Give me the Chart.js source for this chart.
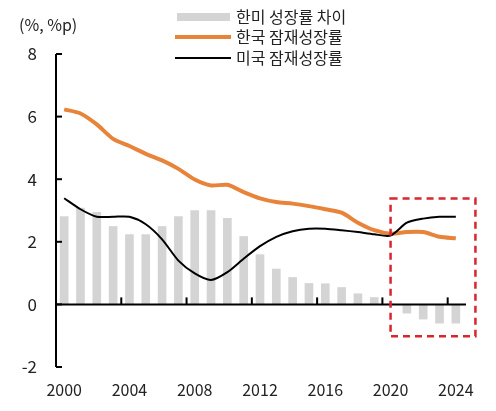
<!DOCTYPE html>
<html>
<head>
  <meta charset="utf-8">
  <title>한미 잠재성장률</title>
  <script src="https://cdn.jsdelivr.net/npm/chart.js"></script>
  <style>
    body { margin: 0; background: #fff; }
    #wrap { width: 496px; height: 411px; position: relative; }
  </style>
</head>
<body>
  <div id="wrap"><canvas id="growthChart"></canvas></div>

  <script>
    // 데이터
    const years = ['2000','2001','2002','2003','2004','2005','2006','2007','2008','2009','2010','2011','2012',
                   '2013','2014','2015','2016','2017','2018','2019','2020','2021','2022','2023','2024'];
    const gapValues = [2.82, 3.09, 2.95, 2.50, 2.24, 2.24, 2.50, 2.82, 3.01, 3.01, 2.76, 2.18, 1.60,
                       1.14, 0.87, 0.68, 0.67, 0.55, 0.35, 0.23, 0.03, -0.29, -0.48, -0.61, -0.61];
    const koreaValues = [6.23, 6.10, 5.75, 5.29, 5.06, 4.81, 4.60, 4.33, 3.99, 3.80, 3.82, 3.59, 3.39,
                         3.27, 3.22, 3.14, 3.04, 2.93, 2.61, 2.37, 2.26, 2.31, 2.31, 2.16, 2.11];
    const usValues = [3.39, 3.04, 2.80, 2.80, 2.80, 2.56, 2.08, 1.40, 0.99, 0.78, 1.03, 1.46, 1.86,
                      2.16, 2.34, 2.42, 2.42, 2.37, 2.31, 2.24, 2.20, 2.61, 2.74, 2.80, 2.80];
    const yTicks = [-2, 0, 2, 4, 6, 8];

    const FONT = '"Noto Sans CJK KR", "Noto Sans", sans-serif';

    // 축선, 안쪽 눈금, 범례, 점선 박스
    const decoPlugin = {
      id: 'deco',
      afterDatasetsDraw(chart) {
        const ctx = chart.ctx;
        const x = chart.scales.x, y = chart.scales.y;
        const area = chart.chartArea;
        const zero = y.getPixelForValue(0);

        ctx.save();
        ctx.strokeStyle = '#000';
        ctx.lineWidth = 2;
        // y축
        ctx.beginPath();
        ctx.moveTo(area.left, area.top);
        ctx.lineTo(area.left, area.bottom);
        ctx.stroke();
        yTicks.forEach(v => {
          const py = y.getPixelForValue(v);
          ctx.beginPath();
          ctx.moveTo(area.left, py);
          ctx.lineTo(area.left + 6, py);
          ctx.stroke();
        });
        // x축 (0선)
        ctx.beginPath();
        ctx.moveTo(area.left, zero);
        ctx.lineTo(area.right + 2, zero);
        ctx.stroke();
        for (let i = 4; i < years.length + 1; i += 4) {
          const px = (x.getPixelForValue(i - 1) + x.getPixelForValue(i)) / 2;
          ctx.beginPath();
          ctx.moveTo(px, zero);
          ctx.lineTo(px, zero - 7);
          ctx.stroke();
        }

        // 점선 박스 (2020~2024)
        const step = x.getPixelForValue(1) - x.getPixelForValue(0);
        ctx.strokeStyle = '#d7262e';
        ctx.lineWidth = 2.5;
        ctx.setLineDash([7, 5]);
        const bx = x.getPixelForValue(20);
        const by = y.getPixelForValue(3.38);
        ctx.strokeRect(bx, by, x.getPixelForValue(24) + step * 1.2 - bx, y.getPixelForValue(-1.02) - by);
        ctx.setLineDash([]);

        // y축 단위
        ctx.fillStyle = '#222';
        ctx.font = '16px ' + FONT;
        ctx.textBaseline = 'middle';
        ctx.textAlign = 'left';
        ctx.fillText('(%, %p)', 19, 25);

        // 범례
        const rows = [17, 37, 58];
        chart.data.datasets.forEach((ds, i) => {
          const ry = rows[i];
          if (ds.type === 'bar') {
            ctx.fillStyle = ds.backgroundColor;
            ctx.fillRect(177, ry - 4, 53, 8);
          } else {
            ctx.strokeStyle = ds.borderColor;
            ctx.lineWidth = ds.borderWidth;
            ctx.beginPath();
            ctx.moveTo(175, ry);
            ctx.lineTo(231, ry);
            ctx.stroke();
          }
          ctx.fillStyle = '#222';
          ctx.fillText(ds.label, 236, ry);
        });
        ctx.restore();
      }
    };

    const ctx = document.getElementById('growthChart').getContext('2d');
    new Chart(ctx, {
      data: {
        labels: years,
        datasets: [
          {
            type: 'bar',
            label: '한미 성장률 차이',
            data: gapValues,
            backgroundColor: '#d4d4d4',
            categoryPercentage: 1,
            barPercentage: 0.53,
            order: 2
          },
          {
            type: 'line',
            label: '한국 잠재성장률',
            data: koreaValues,
            borderColor: '#e8833a',
            borderWidth: 4,
            pointRadius: 0,
            tension: 0.25,
            order: 1
          },
          {
            type: 'line',
            label: '미국 잠재성장률',
            data: usValues,
            borderColor: '#000',
            borderWidth: 2,
            pointRadius: 0,
            tension: 0.25,
            order: 0
          }
        ]
      },
      options: {
        responsive: true,
        maintainAspectRatio: false,
        animation: false,
        layout: { padding: { top: 54, right: 32, left: 0, bottom: 0 } },
        plugins: {
          legend: { display: false },
          tooltip: { enabled: false }
        },
        scales: {
          x: {
            offset: true,
            grid: { display: false },
            border: { display: false },
            afterFit(scale) { scale.height = 44; },
            ticks: {
              autoSkip: false,
              maxRotation: 0,
              padding: 5,
              color: '#222',
              font: { family: FONT, size: 16 },
              callback(value, index) { return index % 4 === 0 ? years[index] : ''; }
            }
          },
          y: {
            min: -2,
            max: 8,
            afterFit(scale) { scale.width = 56; },
            afterBuildTicks(scale) { scale.ticks = yTicks.map(v => ({ value: v })); },
            grid: { display: false },
            border: { display: false },
            ticks: {
              padding: 11,
              color: '#222',
              font: { family: FONT, size: 17 }
            }
          }
        }
      },
      plugins: [decoPlugin]
    });
  </script>
</body>
</html>
